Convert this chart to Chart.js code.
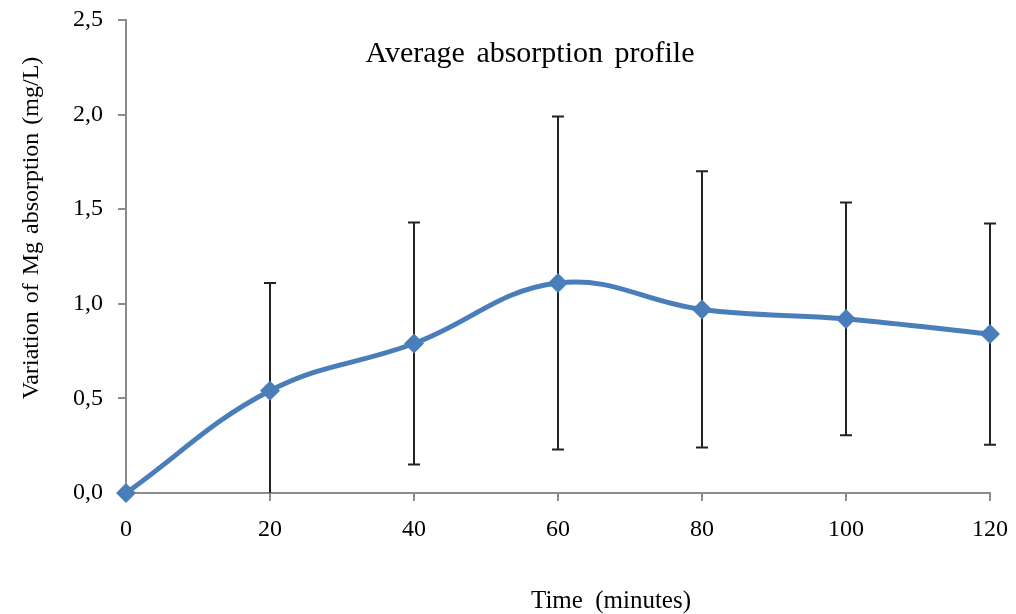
<!DOCTYPE html>
<html>
<head>
<meta charset="utf-8">
<script src="https://cdn.jsdelivr.net/npm/chart.js@4/dist/chart.umd.min.js"></script>
<style>
  html, body { margin: 0; padding: 0; background: #fff; }
  #wrap { width: 1016px; height: 614px; }
</style>
</head>
<body>
<div id="wrap"><canvas id="c" width="1016" height="614"></canvas></div>
<script>
// time points (minutes) and mean variation of Mg absorption (mg/L)
var minutes = [0, 20, 40, 60, 80, 100, 120];
var meanAbs = [0.0, 0.54, 0.79, 1.11, 0.97, 0.92, 0.84];
// standard deviation (error bars, symmetric)
var sdAbs = [0.0, 0.57, 0.64, 0.88, 0.73, 0.615, 0.585];
var yTicks = [0, 0.5, 1.0, 1.5, 2.0, 2.5];

var chartTitle = 'Average absorption profile';
var xTitle = 'Time (minutes)';
var yTitle = 'Variation of Mg absorption (mg/L)';

var serif = '"Liberation Serif", "Times New Roman", serif';
var axisGrey = '#8c8c8c';
var lineBlue = '#4a7ebb';

var points = [];
for (var i = 0; i < minutes.length; i++) {
  points.push({x: minutes[i], y: meanAbs[i]});
}

// error bars, drawn behind the line
var errorBars = {
  id: 'errorBars',
  beforeDatasetsDraw: function(chart) {
    var ctx = chart.ctx, xs = chart.scales.x, ys = chart.scales.y, a = chart.chartArea;
    ctx.save();
    ctx.beginPath();
    ctx.rect(a.left - 10, a.top, a.right - a.left + 20, a.bottom - a.top);
    ctx.clip();
    ctx.strokeStyle = '#222';
    ctx.lineWidth = 2;
    for (var i = 0; i < minutes.length; i++) {
      if (!sdAbs[i]) continue;
      var px = xs.getPixelForValue(minutes[i]);
      var top = ys.getPixelForValue(meanAbs[i] + sdAbs[i]);
      var bot = ys.getPixelForValue(meanAbs[i] - sdAbs[i]);
      ctx.beginPath();
      ctx.moveTo(px, top); ctx.lineTo(px, bot);
      ctx.moveTo(px - 6, top); ctx.lineTo(px + 6, top);
      ctx.moveTo(px - 6, bot); ctx.lineTo(px + 6, bot);
      ctx.stroke();
    }
    ctx.restore();
  }
};

// title inside plot area + axis titles
var texts = {
  id: 'texts',
  afterDraw: function(chart) {
    var ctx = chart.ctx;
    ctx.save();
    ctx.fillStyle = '#000';
    ctx.textAlign = 'center';
    ctx.textBaseline = 'alphabetic';
    ctx.font = '30px ' + serif;
    ctx.wordSpacing = '4px';
    ctx.fillText(chartTitle, 530, 62);
    ctx.font = '25px ' + serif;
    ctx.wordSpacing = '6px';
    ctx.fillText(xTitle, 611, 608);
    ctx.wordSpacing = '2px';
    ctx.font = '24px ' + serif;
    ctx.translate(38, 228);
    ctx.rotate(-Math.PI / 2);
    ctx.fillText(yTitle, 0, 0);
    ctx.restore();
  }
};

new Chart(document.getElementById('c'), {
  type: 'line',
  data: {
    datasets: [{
      data: points,
      borderColor: lineBlue,
      backgroundColor: lineBlue,
      borderWidth: 5,
      tension: 0.4,
      pointStyle: 'rectRot',
      pointRadius: 10,
      pointHoverRadius: 10,
      pointBorderWidth: 0,
      clip: false
    }]
  },
  options: {
    responsive: false,
    animation: false,
    layout: { padding: { top: 20, right: 26, left: 0, bottom: 0 } },
    plugins: {
      legend: { display: false },
      tooltip: { enabled: false },
      title: { display: false }
    },
    scales: {
      x: {
        type: 'linear',
        min: 0, max: 120,
        afterBuildTicks: function(s) { s.ticks = minutes.map(function(v) { return {value: v}; }); },
        afterFit: function(s) { s.height = 121; s.paddingLeft = 0; s.paddingRight = 0; },
        grid: { drawOnChartArea: false, color: axisGrey, tickLength: 8, lineWidth: 2 },
        border: { color: axisGrey, width: 2 },
        ticks: { color: '#000', padding: 14, maxRotation: 0, font: { family: serif, size: 24 } }
      },
      y: {
        min: 0, max: 2.5,
        afterBuildTicks: function(s) { s.ticks = yTicks.map(function(v) { return {value: v}; }); },
        afterFit: function(s) { s.width = 126; s.paddingTop = 0; s.paddingBottom = 0; },
        grid: { drawOnChartArea: false, color: axisGrey, tickLength: 8, lineWidth: 2 },
        border: { color: axisGrey, width: 2 },
        ticks: {
          color: '#000', padding: 15, font: { family: serif, size: 24 },
          callback: function(v) { return v.toFixed(1).replace('.', ','); }
        }
      }
    }
  },
  plugins: [errorBars, texts]
});
</script>
</body>
</html>
